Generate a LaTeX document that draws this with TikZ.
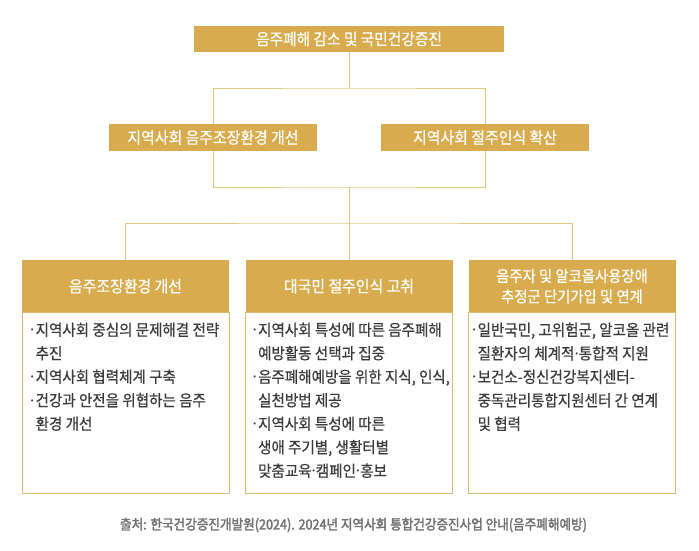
\documentclass[tikz,border=0pt]{standalone}
\usepackage{fontspec}
\newfontfamily\kr[FakeStretch=0.92,FakeBold=0.5]{Noto Sans CJK KR}
\newfontfamily\krnote[FakeStretch=0.9,FakeBold=2.2]{Noto Sans CJK KR}
\newfontfamily\dotfont{Noto Sans}
\usetikzlibrary{calc}
\definecolor{Gold}{RGB}{216,172,78}
\definecolor{LineGold}{RGB}{228,198,128}
\definecolor{BoxGold}{RGB}{222,186,112}
\definecolor{BodyGray}{RGB}{58,58,58}
\definecolor{NoteGray}{RGB}{112,112,112}
\newcommand{\md}{{\dotfont ·}}
\newcommand{\itm}{\md\kern1.2pt}
\newcommand{\subline}{\hphantom{\itm}}

\begin{document}
\begin{tikzpicture}[x=1pt,y=-1pt,
    head/.style={fill=Gold,text=white,inner sep=0pt,align=center,font=\kr\fontsize{16.2}{21}\selectfont},
    link/.style={draw=LineGold,line width=1pt},
    body/.style={draw=BoxGold,line width=1pt,minimum width=207pt,minimum height=181pt,anchor=north},
    items/.style={inner sep=0pt,align=left,anchor=north west,text=BodyGray,font=\kr\fontsize{15.8}{23.5}\selectfont}]
  \useasboundingbox (0,0) rectangle (699,550);

  % goal and the two strategies
  \node[head,minimum width=310pt,minimum height=26pt,font=\kr\fontsize{16}{21}\selectfont] (goal) at (349,39) {음주폐해 감소 및 국민건강증진};
  \node[head,minimum width=208pt,minimum height=27pt] (envA) at (213,137.5) {지역사회 음주조장환경 개선};
  \node[head,minimum width=208pt,minimum height=27pt] (awareB) at (485,137.5) {지역사회 절주인식 확산};

  % three tasks
  \node[head,minimum width=207pt,minimum height=52pt,anchor=north] (hdA) at (125.5,260) {음주조장환경 개선};
  \node[head,minimum width=207pt,minimum height=52pt,anchor=north] (hdB) at (349,260) {대국민 절주인식 고취};
  \node[head,minimum width=207pt,minimum height=52pt,anchor=north,font=\kr\fontsize{15.6}{20.5}\selectfont] (hdC) at (572,260) {음주자 및 알코올사용장애\\추정군 단기가입 및 연계};
  \node[body] (bdA) at (hdA.south) {};
  \node[body] (bdB) at (hdB.south) {};
  \node[body] (bdC) at (hdC.south) {};

  \node[items] (txA) at ($(bdA.north west)+(8.5,10)$) {\itm 지역사회 중심의 문제해결 전략\\\subline 추진\\\itm 지역사회 협력체계 구축\\\itm 건강과 안전을 위협하는 음주\\\subline 환경 개선};
  \node[items] (txB) at ($(bdB.north west)+(7.5,10)$) {\itm 지역사회 특성에 따른 음주폐해\\\subline 예방활동 선택과 집중\\\itm 음주폐해예방을 위한 지식, 인식,\\\subline 실천방법 제공\\\itm 지역사회 특성에 따른\\\subline 생애 주기별, 생활터별\\\subline 맞춤교육\md 캠페인\md 홍보};
  \node[items] (txC) at ($(bdC.north west)+(4,10)$) {\itm 일반국민, 고위험군, 알코올 관련\\\subline 질환자의 체계적\md 통합적 지원\\\itm 보건소-정신건강복지센터-\\\subline 중독관리통합지원센터 간 연계\\\subline 및 협력};

  % connectors
  \coordinate (j1) at (349,88);
  \coordinate (j2) at (349,187);
  \coordinate (j3) at (349,223);
  \draw[link] (goal.south) -- (j1);
  \draw[link] (envA.north) |- (j1) -| (awareB.north);
  \draw[link] (envA.south) |- (j2) -| (awareB.south);
  \draw[link] (j2) -- (j3);
  \draw[link] (hdA.north) |- (j3) -| (hdC.north);
  \draw[link] (j3) -- (hdB.north);

  \node[text=NoteGray,font=\krnote\fontsize{14}{15}\selectfont] (src) at (353.5,525) {출처: 한국건강증진개발원(2024). 2024년 지역사회 통합건강증진사업 안내(음주폐해예방)};
\end{tikzpicture}
\end{document}
